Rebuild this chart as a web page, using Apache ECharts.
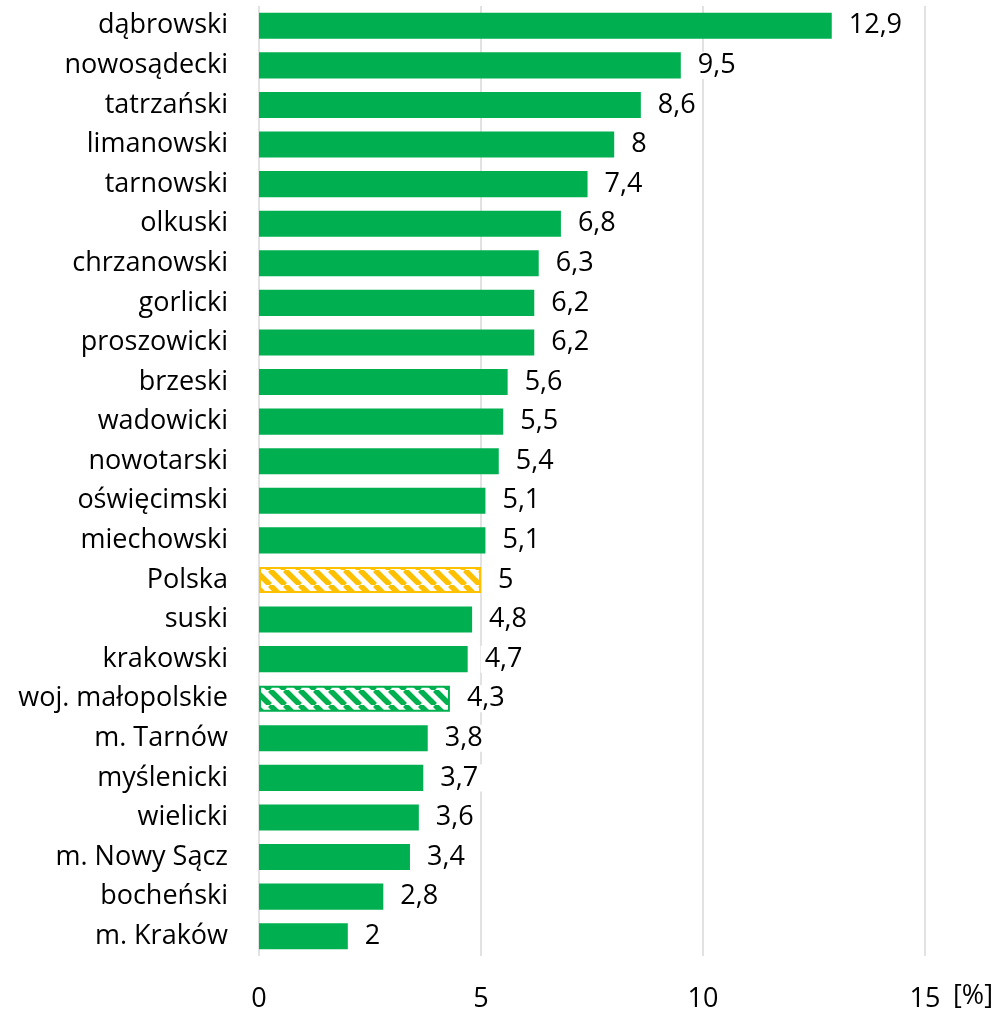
<!DOCTYPE html>
<html><head><meta charset="utf-8">
<script src="https://cdn.jsdelivr.net/npm/echarts@6/dist/echarts.min.js"></script>
<style>html,body{margin:0;padding:0;background:#fff}#c{width:997px;height:1012px}</style>
</head><body><div id="c"></div>
<script>
const categories = ["dąbrowski","nowosądecki","tatrzański","limanowski","tarnowski","olkuski","chrzanowski","gorlicki","proszowicki","brzeski","wadowicki","nowotarski","oświęcimski","miechowski","Polska","suski","krakowski","woj. małopolskie","m. Tarnów","myślenicki","wielicki","m. Nowy Sącz","bocheński","m. Kraków"];
const values = [12.9,9.5,8.6,8,7.4,6.8,6.3,6.2,6.2,5.6,5.5,5.4,5.1,5.1,5,4.8,4.7,4.3,3.8,3.7,3.6,3.4,2.8,2];
const xTicks = [0,5,10,15];
const unitLabel = '[%]';

function stripe(color){
  const s=15, c=document.createElement('canvas'); c.width=s; c.height=s;
  const g=c.getContext('2d'); g.fillStyle='#fff'; g.fillRect(0,0,s,s);
  g.strokeStyle=color; g.lineWidth=5.5;
  for(const o of [-s,0,s]){ g.beginPath(); g.moveTo(o,0); g.lineTo(o+s,s); g.stroke(); }
  return c;
}
const green='#00B050', yellow='#FFC000';
const FONT='Open Sans';
const data = values.map((v,i)=>{
  const n=categories[i];
  if(n==='Polska') return {value:v,itemStyle:{color:{image:stripe(yellow),repeat:'repeat'},borderColor:yellow,borderWidth:2}};
  if(n==='woj. małopolskie') return {value:v,itemStyle:{color:{image:stripe(green),repeat:'repeat'},borderColor:green,borderWidth:2}};
  return {value:v,itemStyle:{color:green}};
});
const chart=echarts.init(document.getElementById('c'));
chart.setOption({
  animation:false,
  grid:{left:259,right:72,top:6,bottom:56,containLabel:false,outerBoundsMode:'none'},
  xAxis:{type:'value',min:0,max:15,interval:5,
    axisLine:{show:false},axisTick:{show:false},
    splitLine:{show:true,lineStyle:{color:'#d9d9d9',width:1.5}},
    axisLabel:{margin:30,fontSize:27,color:'#000',fontFamily:FONT,
      formatter:v=>xTicks.includes(v)?String(v):''}
  },
  yAxis:{type:'category',data:categories,inverse:true,
    axisLine:{show:false},axisTick:{show:false},
    axisLabel:{margin:31,fontSize:27,color:'#000',fontFamily:FONT}
  },
  graphic:[{type:'text',left:953,top:983,style:{text:unitLabel,fontSize:27,fill:'#000',fontFamily:FONT}}],
  series:[{type:'bar',data:data,barCategoryGap:'34%',
    label:{show:true,position:'right',distance:13,fontSize:27,color:'#000',fontFamily:FONT,
      backgroundColor:'#fff',padding:[0,4,0,4],
      formatter:p=>String(p.value).replace('.',',')}
  }]
});
</script></body></html>
